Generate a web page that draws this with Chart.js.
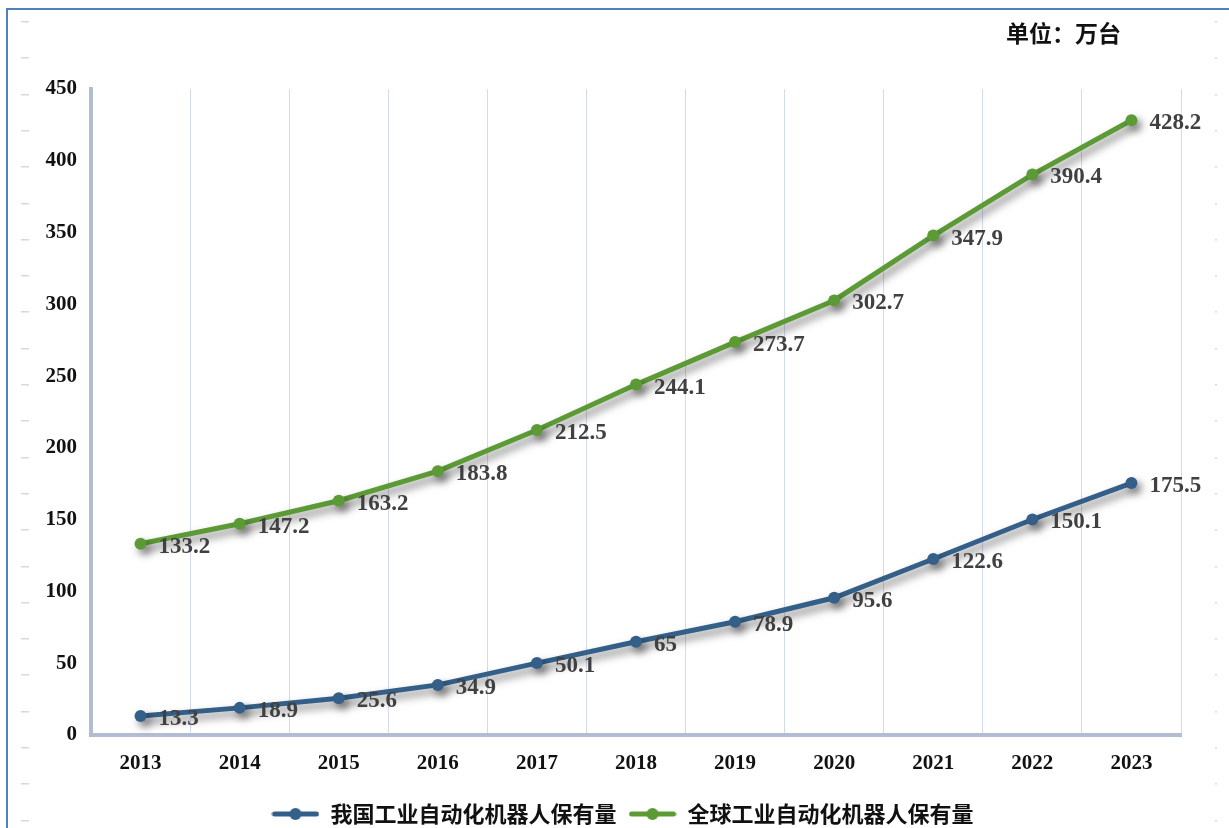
<!DOCTYPE html>
<html>
<head>
<meta charset="utf-8">
<script src="https://cdn.jsdelivr.net/npm/chart.js@4/dist/chart.umd.min.js"></script>
<style>
  body { margin: 0; background: #fff; }
  #wrap { position: relative; width: 1229px; height: 828px; overflow: hidden; }
  #frame { position: absolute; left: 6px; top: 8px; width: 1240px; height: 840px;
           border-left: 2px solid #4f81bd; border-top: 2px solid #4f81bd; }
  canvas { position: absolute; left: 0; top: 0; }
</style>
</head>
<body>
<div id="wrap">
  <div id="frame"></div>
  <canvas id="chart" width="1229" height="828"></canvas>
</div>
<script>
const years = ['2013', '2014', '2015', '2016', '2017', '2018', '2019', '2020', '2021', '2022', '2023'];
const chinaStock = [13.3, 18.9, 25.6, 34.9, 50.1, 65, 78.9, 95.6, 122.6, 150.1, 175.5];
const globalStock = [133.2, 147.2, 163.2, 183.8, 212.5, 244.1, 273.7, 302.7, 347.9, 390.4, 428.2];
const seriesNames = ['我国工业自动化机器人保有量', '全球工业自动化机器人保有量'];
const unitText = '单位：万台';

const BLUE = '#335f88';
const GREEN = '#5b9a34';

function legendIcon(color) {
  const c = document.createElement('canvas');
  c.width = 48; c.height = 14;
  const g = c.getContext('2d');
  g.strokeStyle = color; g.lineWidth = 5; g.lineCap = 'round';
  g.beginPath(); g.moveTo(3, 7); g.lineTo(45, 7); g.stroke();
  g.fillStyle = color;
  g.beginPath(); g.arc(24, 7, 6, 0, Math.PI * 2); g.fill();
  return c;
}

// drop shadow under the lines
const shadowPlugin = {
  id: 'shadow',
  beforeDatasetDraw(chart) {
    const ctx = chart.ctx;
    ctx.save();
    ctx.shadowColor = 'rgba(0,0,0,0.5)';
    ctx.shadowBlur = 8;
    ctx.shadowOffsetX = 4;
    ctx.shadowOffsetY = 5;
  },
  afterDatasetDraw(chart) {
    chart.ctx.restore();
  }
};

// legend sits a bit right of centre in the original
const legendShift = {
  id: 'legendShift',
  beforeDraw(chart) {
    const lg = chart.legend;
    if (lg && !lg._shifted) {
      const orig = lg.draw;
      lg.draw = function () {
        chart.ctx.save();
        chart.ctx.translate(32, 0);
        orig.apply(this, arguments);
        chart.ctx.restore();
      };
      lg._shifted = true;
    }
  }
};

// value labels + unit text + page marks
const labelPlugin = {
  id: 'labels',
  beforeDraw(chart) {
    const ctx = chart.ctx;
    ctx.save();
    ctx.fillStyle = '#d9d9d9';
    for (let y = 21; y < 828; y += 36.3) {
      ctx.fillRect(21, Math.round(y), 8, 1.5);
      ctx.fillRect(1215, Math.round(y), 2, 1.5);
    }
    ctx.restore();
  },
  afterDatasetsDraw(chart) {
    const ctx = chart.ctx;
    ctx.save();
    ctx.font = 'bold 23px "Liberation Serif", serif';
    ctx.fillStyle = '#404040';
    ctx.textAlign = 'left';
    ctx.textBaseline = 'middle';
    chart.data.datasets.forEach((ds, i) => {
      chart.getDatasetMeta(i).data.forEach((pt, j) => {
        ctx.fillText(ds.data[j], pt.x + 18, pt.y + 3);
      });
    });
    ctx.font = 'bold 23px "Noto Sans CJK SC", sans-serif';
    ctx.fillStyle = '#111';
    ctx.textAlign = 'right';
    ctx.fillText(unitText, 1121, 33);
    ctx.restore();
  }
};

new Chart(document.getElementById('chart'), {
  type: 'line',
  data: {
    labels: years,
    datasets: [
      { label: seriesNames[0], data: chinaStock, borderColor: BLUE, backgroundColor: BLUE,
        borderWidth: 5, pointRadius: 6, pointBackgroundColor: BLUE, pointBorderWidth: 0, tension: 0 },
      { label: seriesNames[1], data: globalStock, borderColor: GREEN, backgroundColor: GREEN,
        borderWidth: 5, pointRadius: 6, pointBackgroundColor: GREEN, pointBorderWidth: 0, tension: 0 }
    ]
  },
  options: {
    responsive: false,
    animation: false,
    layout: { padding: { top: 89, right: 48, left: 0, bottom: -7 } },
    plugins: {
      tooltip: { enabled: false },
      legend: {
        position: 'bottom',
        labels: {
          usePointStyle: true,
          pointStyleWidth: 48,
          boxHeight: 14,
          padding: 12,
          color: '#111',
          font: { family: '"Noto Sans CJK SC", sans-serif', size: 22, weight: 'bold' },
          generateLabels(chart) {
            return Chart.defaults.plugins.legend.labels.generateLabels(chart).map((l, i) => {
              l.pointStyle = legendIcon(i === 0 ? BLUE : GREEN);
              return l;
            });
          }
        }
      }
    },
    scales: {
      x: {
        offset: true,
        grid: { display: true, offset: true, color: '#d3dbee', lineWidth: 1, drawTicks: false },
        border: { display: true, color: '#b3bdd1', width: 4 },
        ticks: { color: '#111', padding: 16, font: { family: '"Liberation Serif", serif', size: 21, weight: 'bold' } },
        afterFit(s) { s.height = 56; }
      },
      y: {
        min: 0,
        max: 450,
        grid: { display: false, drawTicks: false },
        border: { display: true, color: '#b3bdd1', width: 4 },
        ticks: { stepSize: 50, color: '#111', padding: 14,
                 font: { family: '"Liberation Serif", serif', size: 21, weight: 'bold' } },
        afterFit(s) { s.width = 91; }
      }
    }
  },
  plugins: [shadowPlugin, legendShift, labelPlugin]
});
</script>
</body>
</html>
